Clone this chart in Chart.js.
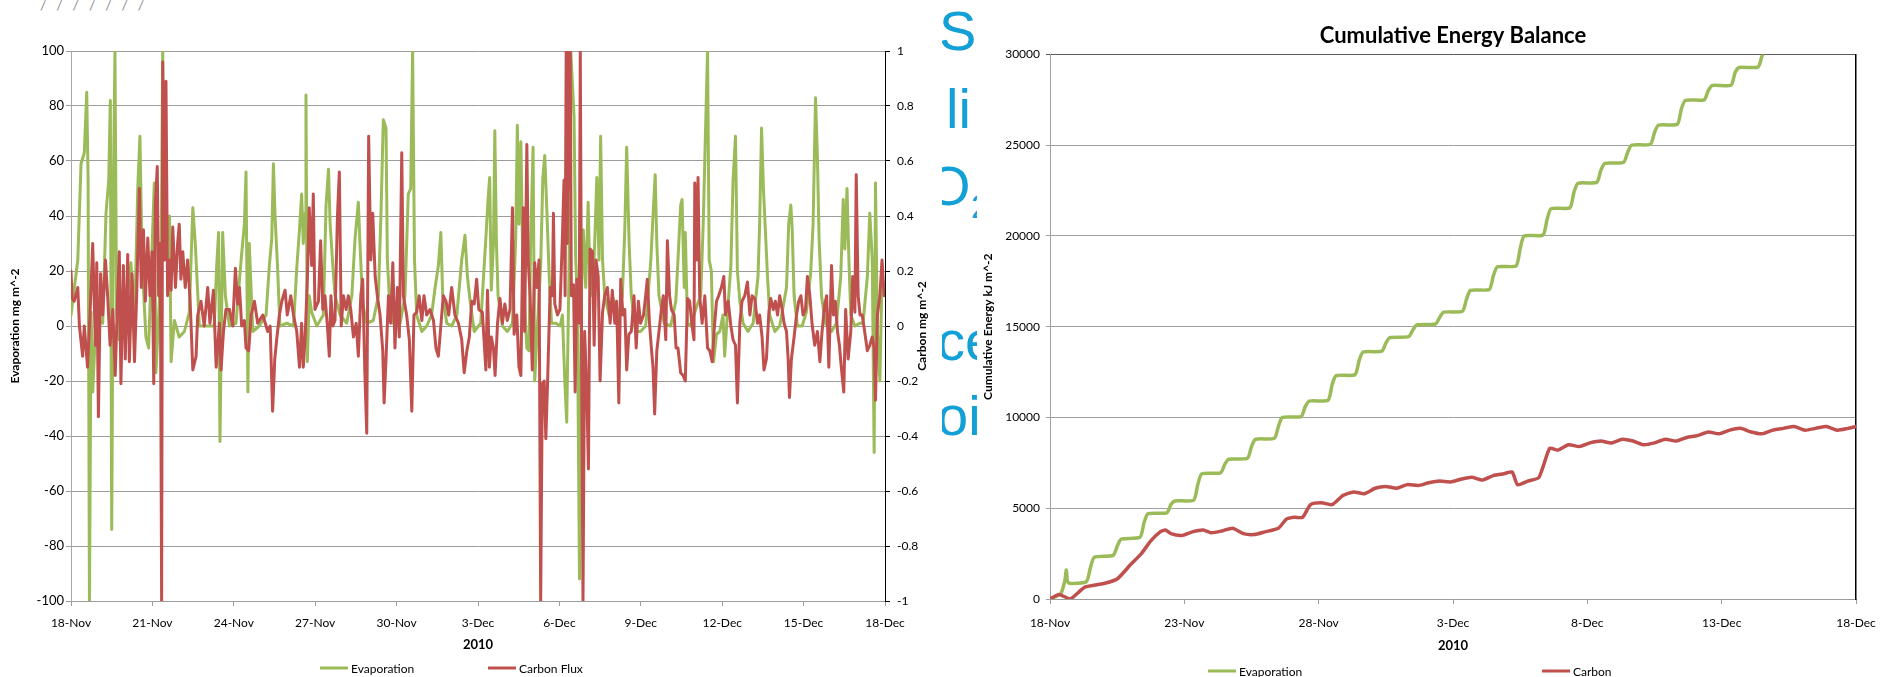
<!DOCTYPE html>
<html>
<head>
<meta charset="utf-8">
<title>Evaporation and carbon flux, Nov-Dec 2010</title>
<script src="https://cdn.jsdelivr.net/npm/chart.js@4.4.1/dist/chart.umd.min.js"></script>
<style>
  html, body { margin: 0; padding: 0; background: #fff; }
  body { width: 1889px; height: 677px; position: relative; overflow: hidden; font-family: Lato, sans-serif; }
  #fluxBox { position: absolute; left: 0; top: 0; width: 940px; height: 677px; }
  #cumBox { position: absolute; left: 976px; top: 0; width: 913px; height: 677px; }
  .legend-item { position: absolute; transform: translateY(-50%); display: flex; align-items: center;
                 font: 12px Lato, sans-serif; color: #000; white-space: nowrap; }
  .legend-item .swatch { display: inline-block; width: 28px; height: 3px; margin-right: 3px; }
  #slideText { position: absolute; left: 942px; top: 0; width: 35px; height: 460px; overflow: hidden; }
  #slideText span { position: absolute; font-family: "Liberation Sans", Arial, sans-serif; color: #12a0d7; white-space: nowrap; }
  #marks { position: absolute; left: 40px; top: -4px; font: 14px Lato, sans-serif; color: #8c8c8c; letter-spacing: 3.2px; }
</style>
</head>
<body>
<div id="marks">/ / / / / / /</div>
<div id="fluxBox"><canvas id="fluxChart" width="940" height="677"></canvas></div>
<div id="slideText">
  <span style="left:-3px; top:3px; font-size:56px; line-height:56px;">S</span>
  <span style="left:4px; top:81px; font-size:56px; line-height:56px;">li</span>
  <span style="left:-15px; top:158px; font-size:56px; line-height:56px;">O</span>
  <span style="left:29px; top:189px; font-size:34px; line-height:34px;">2</span>
  <span style="left:-5px; top:313px; font-size:56px; line-height:56px;">ce</span>
  <span style="left:-5px; top:388px; font-size:56px; line-height:56px;">oi</span>
</div>
<div id="cumBox"><canvas id="cumChart" width="913" height="677"></canvas></div>

<script>
// half-hourly flux (days since 18-Nov-2010)
const evapDays = [
  0.00,0.25,0.37,0.49,0.58,0.63,0.68,0.74,0.80,0.92,
  1.17,1.29,1.39,1.45,1.50,1.57,1.62,1.68,1.78,1.97,
  2.21,2.34,2.46,2.54,2.62,2.76,2.86,3.07,3.13,3.32,
  3.38,3.44,3.63,3.69,3.81,3.99,4.18,4.36,4.49,4.58,
  4.73,4.98,5.28,5.37,5.44,5.49,5.59,5.69,5.84,6.08,
  6.27,6.39,6.45,6.52,6.57,6.70,6.94,7.19,7.31,7.40,
  7.46,7.52,7.61,7.70,7.95,8.20,8.32,8.42,8.50,8.56,
  8.63,8.66,8.71,8.78,8.87,9.06,9.30,9.40,9.49,9.55,
  9.65,9.73,9.92,10.16,10.35,10.47,10.59,10.65,10.75,10.90,
  11.14,11.33,11.43,11.51,11.61,11.66,11.73,11.88,12.13,12.31,
  12.43,12.52,12.59,12.66,12.74,12.93,13.11,13.29,13.42,13.54,
  13.63,13.70,13.85,14.03,14.22,14.40,14.52,14.61,14.71,14.86,
  15.10,15.29,15.37,15.43,15.49,15.57,15.62,15.68,15.74,15.90,
  16.08,16.27,16.39,16.45,16.51,16.58,16.64,16.70,16.80,16.88,
  16.94,17.03,17.09,17.19,17.31,17.39,17.46,17.53,17.62,17.71,
  17.87,18.03,18.11,18.20,18.27,18.36,18.42,18.54,18.60,18.66,
  18.74,18.81,18.88,18.97,19.06,19.13,19.22,19.30,19.38,19.46,
  19.52,19.59,19.67,19.83,19.99,20.14,20.32,20.41,20.48,20.57,
  20.65,20.81,20.99,21.18,21.37,21.45,21.53,21.59,21.67,21.86,
  22.10,22.29,22.37,22.47,22.52,22.60,22.64,22.72,22.84,22.96,
  23.09,23.21,23.30,23.38,23.46,23.52,23.60,23.68,23.79,23.91,
  24.03,24.09,24.19,24.32,24.40,24.49,24.56,24.65,24.77,24.95,
  25.14,25.32,25.38,25.45,25.52,25.59,25.67,25.75,25.94,26.12,
  26.28,26.37,26.45,26.53,26.58,26.65,26.77,26.95,27.10,27.26,
  27.35,27.44,27.51,27.57,27.66,27.80,28.03,28.21,28.37,28.46,
  28.52,28.60,28.67,28.74,28.89,29.07,29.19,29.35,29.44,29.53,
  29.60,29.65,29.72,29.81,29.89,30.00
];
const evapVals = [
  4,24,59,63,85,53,-100,5,-24,2,
  1,41,53,82,-74,57,100,5,-5,1,
  23,0,50,69,24,-4,-8,52,-17,22,
  100,24,40,-13,2,-4,-2,5,43,30,
  0,0,0,22,34,-42,34,11,0,1,
  24,37,56,-24,30,-2,0,4,22,32,
  59,40,22,0,1,0,21,35,48,30,
  41,84,-13,11,5,0,4,44,57,37,
  22,11,4,1,11,32,45,30,8,1,
  2,11,43,75,72,24,11,1,1,11,
  48,50,100,24,4,-2,0,4,14,22,
  34,11,1,0,4,24,33,18,9,-2,
  1,32,46,54,13,30,71,30,11,0,
  -2,1,32,73,37,67,30,11,-8,-9,
  30,65,-20,0,22,54,62,44,19,1,
  1,0,4,-20,-35,24,100,76,24,11,
  -92,11,35,14,45,14,11,30,54,24,
  69,24,11,4,10,2,11,35,65,30,
  11,-2,-2,0,24,40,55,30,11,1,
  0,9,24,44,46,14,34,1,0,4,
  8,11,37,69,100,24,20,-13,-3,-2,
  4,-11,4,22,53,69,20,9,1,-2,
  1,18,37,72,50,35,18,4,-2,0,
  9,14,37,44,35,11,0,0,5,19,
  37,83,61,32,11,1,-2,1,18,46,
  28,50,24,4,0,1,1,18,41,24,
  -46,52,-2,-20,18,11
];
const carbonDays = [
  0.00,0.04,0.12,0.25,0.31,0.43,0.49,0.61,0.70,0.80,
  0.90,0.95,1.01,1.09,1.17,1.27,1.35,1.44,1.54,1.63,
  1.72,1.78,1.84,1.93,2.00,2.09,2.15,2.25,2.34,2.42,
  2.52,2.59,2.67,2.74,2.83,2.91,2.99,3.05,3.11,3.18,
  3.23,3.29,3.34,3.38,3.44,3.50,3.56,3.62,3.69,3.75,
  3.85,3.93,3.99,4.05,4.12,4.21,4.30,4.39,4.49,4.61,
  4.67,4.79,4.91,5.04,5.12,5.25,5.35,5.47,5.53,5.62,
  5.71,5.84,5.96,6.06,6.14,6.21,6.29,6.39,6.45,6.55,
  6.64,6.76,6.88,7.07,7.25,7.34,7.43,7.51,7.58,7.68,
  7.77,7.89,7.97,8.10,8.20,8.32,8.42,8.50,8.56,8.63,
  8.71,8.78,8.87,8.93,8.99,9.12,9.20,9.28,9.36,9.45,
  9.52,9.58,9.65,9.73,9.82,9.89,9.96,10.04,10.14,10.22,
  10.31,10.41,10.51,10.59,10.68,10.75,10.83,10.90,10.97,11.05,
  11.12,11.21,11.29,11.39,11.49,11.54,11.61,11.70,11.78,11.86,
  11.94,12.03,12.10,12.19,12.25,12.37,12.47,12.56,12.64,12.74,
  12.83,12.93,13.01,13.11,13.23,13.36,13.45,13.54,13.63,13.72,
  13.82,13.92,14.03,14.15,14.28,14.40,14.49,14.59,14.68,14.77,
  14.86,14.95,15.03,15.16,15.29,15.35,15.42,15.49,15.57,15.63,
  15.72,15.81,15.90,15.99,16.08,16.18,16.27,16.33,16.43,16.51,
  16.58,16.67,16.72,16.80,16.85,16.92,17.00,17.09,17.17,17.25,
  17.31,17.37,17.44,17.50,17.56,17.66,17.74,17.78,17.83,17.93,
  18.02,18.11,18.17,18.21,18.25,18.29,18.33,18.37,18.40,18.44,
  18.52,18.58,18.64,18.73,18.77,18.82,18.87,18.93,19.01,19.07,
  19.13,19.22,19.28,19.35,19.43,19.50,19.59,19.67,19.77,19.87,
  19.95,20.04,20.11,20.19,20.26,20.34,20.41,20.48,20.56,20.65,
  20.75,20.83,20.91,20.99,21.10,21.18,21.24,21.32,21.39,21.45,
  21.51,21.59,21.67,21.76,21.83,21.92,21.98,22.06,22.13,22.23,
  22.30,22.37,22.47,22.56,22.64,22.72,22.80,22.89,22.96,22.99,
  23.06,23.11,23.17,23.26,23.36,23.46,23.54,23.63,23.70,23.79,
  23.87,23.97,24.06,24.12,24.22,24.32,24.40,24.49,24.56,24.65,
  24.73,24.83,24.93,25.02,25.10,25.20,25.30,25.38,25.47,25.54,
  25.63,25.72,25.79,25.88,25.96,26.04,26.12,26.21,26.28,26.37,
  26.43,26.48,26.55,26.65,26.74,26.82,26.90,26.98,27.07,27.14,
  27.23,27.31,27.41,27.51,27.60,27.68,27.78,27.85,27.93,28.03,
  28.10,28.17,28.25,28.32,28.39,28.48,28.55,28.64,28.74,28.81,
  28.89,28.94,29.01,29.08,29.16,29.25,29.35,29.44,29.53,29.60,
  29.65,29.72,29.81,29.89,29.97,30.00
];
const carbonVals = [
  0.20,0.10,0.09,0.14,0.00,-0.11,0.00,-0.15,0.04,0.30,
  -0.07,0.23,-0.33,0.19,0.04,0.24,0.11,-0.07,0.06,-0.18,
  0.11,0.27,-0.21,0.22,-0.12,0.26,-0.13,0.19,-0.13,0.11,
  0.50,0.14,0.35,0.09,0.32,0.11,0.27,-0.21,0.45,0.58,
  0.11,0.30,-1,0.96,0.24,0.89,0.11,0.24,0.13,0.36,
  0.14,0.30,0.37,0.17,0.27,0.14,0.24,0.09,-0.16,-0.11,
  0.04,0.09,0.00,0.14,0.01,0.13,-0.15,0.01,-0.16,-0.02,
  0.06,0.06,0.00,0.21,0.08,0.14,0.00,0.02,-0.08,-0.09,
  0.04,0.09,0.01,0.04,-0.02,0.00,-0.31,-0.12,-0.05,0.04,
  0.09,0.13,0.04,0.11,0.04,-0.02,-0.15,0.01,-0.15,-0.04,
  0.17,0.43,0.22,0.48,0.06,0.09,0.31,0.06,0.11,0.00,
  -0.11,0.11,0.00,0.02,0.40,0.56,0.00,0.11,0.06,0.11,
  0.06,-0.04,0.01,-0.11,0.11,0.17,-0.17,-0.39,0.69,0.24,
  0.41,0.18,0.11,0.04,-0.09,-0.28,-0.12,0.11,0.01,0.23,
  -0.08,0.14,-0.04,0.63,0.11,0.04,-0.05,-0.31,0.04,0.05,
  0.11,0.02,0.11,0.04,0.06,0.02,-0.08,-0.11,0.00,0.11,
  0.09,0.04,0.14,0.04,0.01,-0.05,-0.17,-0.09,-0.04,0.09,
  0.08,0.17,0.06,0.05,-0.16,0.13,-0.15,-0.04,-0.08,-0.18,
  0.01,0.10,0.01,0.08,0.02,0.06,0.43,-0.03,0.04,-0.15,
  -0.18,0.43,-0.02,0.66,0.24,0.11,-0.16,0.23,0.14,0.24,
  -1,-0.21,-0.20,-0.41,-0.22,0.14,0.11,0.41,0.08,0.04,
  0.06,0.32,0.53,0.11,1,0.30,1,0.50,1,0.11,
  0.15,-0.24,0.17,0.01,1,-0.12,-1,-0.02,-0.24,-0.52,
  0.28,0.27,-0.07,0.24,0.18,-0.20,0.05,0.11,0.14,0.01,
  0.13,0.01,0.09,-0.28,0.17,0.04,0.06,-0.16,-0.03,-0.02,
  0.11,-0.08,0.09,0.01,0.04,0.11,0.17,0.01,-0.08,-0.15,
  -0.32,-0.09,-0.02,0.06,0.11,-0.05,0.31,0.11,0.06,0.04,
  -0.08,-0.08,-0.17,-0.18,-0.20,0.10,0.09,0.00,-0.05,0.52,
  0.24,0.54,0.11,0.01,0.11,-0.08,-0.09,-0.13,-0.02,0.09,
  0.11,0.14,0.18,0.04,0.09,0.00,-0.05,-0.07,-0.28,0.01,
  0.09,0.11,0.16,0.04,0.11,0.10,0.01,0.04,-0.04,-0.16,
  -0.12,0.05,0.10,0.06,0.09,0.04,0.11,0.06,0.01,-0.02,
  -0.12,-0.26,-0.12,-0.04,0.04,0.09,0.11,0.04,0.06,0.18,
  0.11,0.01,-0.07,-0.02,-0.13,-0.02,0.08,0.11,-0.15,0.22,
  0.04,0.09,-0.02,-0.07,-0.15,-0.24,0.06,-0.12,-0.02,0.18,
  0.05,0.55,0.11,0.04,0.04,-0.02,-0.09,-0.07,-0.04,-0.08,
  -0.27,0.04,0.11,0.24,0.11,0.14
];

// cumulative energy balance (right panel)
const cumEvapDays = [
  0,0.40,0.55,0.61,0.68,1.35,1.50,1.65,2.35,2.50,2.65,3.35,3.50,3.65,4.35,4.50,4.65,
  5.35,5.50,5.65,6.35,6.50,6.65,7.35,7.50,7.65,8.35,8.50,8.65,9.35,9.50,9.65,
  10.35,10.50,10.65,11.35,11.50,11.65,12.35,12.50,12.65,13.35,13.50,13.65,14.35,14.50,14.65,
  15.35,15.50,15.65,16.35,16.50,16.65,17.35,17.50,17.65,18.35,18.50,18.65,19.35,19.50,19.65,
  20.35,20.50,20.65,21.35,21.50,21.65,22.35,22.50,22.65,23.35,23.50,23.65,24.35,24.50,24.65,
  25.35,25.50,25.65,26.35,26.50,26.65
];
const cumEvapVals = [
  0,300,1000,1600,900,950,1700,2300,2400,2900,3300,3400,4200,4700,4750,5200,5400,
  5450,6300,6900,6950,7400,7700,7750,8400,8800,8850,9500,10000,10050,10600,10900,
  10950,11800,12300,12350,13100,13600,13650,14100,14400,14450,14800,15100,15150,15500,15800,
  15850,16500,17000,17050,17800,18300,18350,19300,20000,20050,20900,21500,21550,22400,22900,
  22950,23600,24000,24050,24600,25000,25050,25700,26100,26150,27000,27470,27500,28000,28290,
  28300,29000,29280,29300,29900,30400
];
const cumCarbonDays = [
  0,0.33,0.75,1.3,2.0,2.5,3.0,3.4,3.75,4.1,4.3,4.5,4.9,5.3,5.7,6.0,6.4,6.8,7.2,7.6,
  8.0,8.5,8.8,9.1,9.4,9.7,10.1,10.5,10.9,11.3,11.7,12.1,12.5,12.9,13.3,13.7,14.1,14.5,14.9,15.3,
  15.7,16.1,16.5,16.9,17.2,17.4,17.8,18.2,18.6,18.9,19.3,19.7,20.1,20.5,20.9,21.3,21.7,22.1,22.5,22.9,
  23.3,23.7,24.1,24.5,24.9,25.3,25.7,26.1,26.5,26.9,27.3,27.7,28.1,28.5,28.9,29.3,29.7,30.0
];
const cumCarbonVals = [
  0,250,0,650,850,1100,1900,2500,3200,3700,3800,3600,3500,3700,3800,3650,3750,3900,3600,3550,
  3700,3900,4400,4500,4500,5200,5300,5200,5700,5900,5800,6100,6200,6100,6300,6250,6400,6500,6450,6600,
  6700,6550,6800,6900,7000,6300,6500,6700,8300,8200,8500,8400,8600,8700,8600,8800,8700,8500,8600,8800,
  8700,8900,9000,9200,9100,9300,9400,9200,9100,9300,9400,9500,9300,9400,9500,9300,9400,9500
];

const fluxDateLabels = ['18-Nov','21-Nov','24-Nov','27-Nov','30-Nov','3-Dec','6-Dec','9-Dec','12-Dec','15-Dec','18-Dec'];
const cumDateLabels = ['18-Nov','23-Nov','28-Nov','3-Dec','8-Dec','13-Dec','18-Dec'];

const GREEN = '#9bbb59';
const RED = '#c0504d';

function pairs(xs, ys) {
  return xs.map(function(x, i) { return { x: x, y: ys[i] }; });
}

// right-hand axis title reads bottom-to-top like the left one
const rightAxisTitle = {
  id: 'rightAxisTitle',
  afterDraw: function(chart, args, opts) {
    const s = chart.scales.y1;
    const ctx = chart.ctx;
    ctx.save();
    ctx.translate(s.right - 18, (s.top + s.bottom) / 2);
    ctx.rotate(-Math.PI / 2);
    ctx.font = 'bold 12px Lato';
    ctx.fillStyle = '#000';
    ctx.textAlign = 'center';
    ctx.textBaseline = 'middle';
    ctx.fillText(opts.text, 0, 0);
    ctx.restore();
  }
};

function addLegend(chart, lefts, top) {
  chart.data.datasets.forEach(function(ds, i) {
    const item = document.createElement('div');
    item.className = 'legend-item';
    item.style.left = lefts[i] + 'px';
    item.style.top = top + 'px';
    item.innerHTML = '<span class="swatch" style="background:' + ds.borderColor + '"></span>' + ds.label;
    document.body.appendChild(item);
  });
}

function draw() {
  Chart.defaults.font.family = 'Lato';
  Chart.defaults.font.size = 12;
  Chart.defaults.color = '#000';

  const fluxChart = new Chart(document.getElementById('fluxChart'), {
    type: 'line',
    data: {
      datasets: [
        { label: 'Evaporation', data: pairs(evapDays, evapVals), yAxisID: 'y', order: 1,
          borderColor: GREEN, backgroundColor: GREEN, borderWidth: 3 },
        { label: 'Carbon Flux', data: pairs(carbonDays, carbonVals), yAxisID: 'y1', order: 0,
          borderColor: RED, backgroundColor: RED, borderWidth: 3 }
      ]
    },
    options: {
      responsive: false,
      animation: false,
      layout: { padding: { top: 51, bottom: 24, left: 0, right: 0 } },
      elements: { point: { radius: 0 }, line: { tension: 0, borderJoinStyle: 'round', borderCapStyle: 'round' } },
      plugins: { legend: { display: false }, tooltip: { enabled: false },
                 rightAxisTitle: { text: 'Carbon mg m^-2' } },
      scales: {
        x: {
          type: 'linear', min: 0, max: 30,
          ticks: { stepSize: 3, autoSkip: false, maxRotation: 0, padding: 10,
                   callback: function(v) { return fluxDateLabels[Math.round(v / 3)]; } },
          grid: { drawOnChartArea: false, color: '#9c9c9c', tickLength: 5 },
          border: { color: '#9c9c9c' },
          title: { display: true, text: '2010', font: { size: 13, weight: 'bold' }, padding: 0 },
          afterFit: function(s) { s.height = 52; }
        },
        y: {
          position: 'left', min: -100, max: 100,
          ticks: { stepSize: 20, padding: 2, font: { size: 13 }, callback: function(v) { return String(v); } },
          grid: { color: '#9c9c9c', tickLength: 5 },
          border: { color: '#a8a8a8' },
          title: { display: true, text: 'Evaporation mg m^-2', font: { size: 12, weight: 'bold' }, padding: { top: 8, bottom: 0 } },
          afterFit: function(s) { s.width = 71; }
        },
        y1: {
          position: 'right', min: -1, max: 1,
          ticks: { stepSize: 0.2, padding: 7, callback: function(v) { return String(Number(v.toFixed(1))); } },
          grid: { drawOnChartArea: false, color: '#000', tickLength: 5 },
          border: { color: '#000' },
          afterFit: function(s) { s.width = 55; }
        }
      }
    },
    plugins: [rightAxisTitle]
  });

  const cumChart = new Chart(document.getElementById('cumChart'), {
    type: 'line',
    data: {
      datasets: [
        { label: 'Evaporation', data: pairs(cumEvapDays, cumEvapVals), order: 1,
          borderColor: GREEN, backgroundColor: GREEN, borderWidth: 3.5 },
        { label: 'Carbon', data: pairs(cumCarbonDays, cumCarbonVals), order: 0,
          borderColor: RED, backgroundColor: RED, borderWidth: 3.5 }
      ]
    },
    options: {
      responsive: false,
      animation: false,
      layout: { padding: { top: 0, bottom: 23, left: 0, right: 33 } },
      elements: { point: { radius: 0 }, line: { tension: 0.2, borderJoinStyle: 'round', borderCapStyle: 'round' } },
      plugins: {
        legend: { display: false }, tooltip: { enabled: false },
        title: { display: true, fullSize: false, text: 'Cumulative Energy Balance', color: '#000',
                 font: { size: 22, weight: 'bold', lineHeight: 1.2 }, padding: { top: 23, bottom: 5 } }
      },
      scales: {
        x: {
          type: 'linear', min: 0, max: 30,
          ticks: { stepSize: 5, autoSkip: false, maxRotation: 0, padding: 12,
                   callback: function(v) { return cumDateLabels[Math.round(v / 5)]; } },
          grid: { drawOnChartArea: false, color: '#9c9c9c', tickLength: 5 },
          border: { color: '#9c9c9c' },
          title: { display: true, text: '2010', font: { size: 13, weight: 'bold' }, padding: 0 },
          afterFit: function(s) { s.height = 55; }
        },
        y: {
          position: 'left', min: 0, max: 30000,
          ticks: { stepSize: 5000, padding: 6, callback: function(v) { return String(v); } },
          grid: { color: function(c) { return c.tick && c.tick.value === 30000 ? '#5a5a5a' : '#a0a0a0'; }, tickLength: 4 },
          border: { color: '#a0a0a0' },
          title: { display: true, text: 'Cumulative Energy kJ m^-2', font: { size: 12, weight: 'bold' }, padding: { top: 5, bottom: 0 } },
          afterFit: function(s) { s.width = 74; }
        },
        y2: {
          position: 'right', min: 0, max: 1,
          ticks: { display: false },
          grid: { drawOnChartArea: false, drawTicks: false },
          border: { color: '#000', width: 1.5 },
          afterFit: function(s) { s.width = 0; }
        }
      }
    }
  });

  addLegend(fluxChart, [320, 488], 668);
  addLegend(cumChart, [1208, 1542], 671);
}

Promise.all([document.fonts.load('12px Lato'), document.fonts.load('bold 12px Lato')]).then(draw, draw);
</script>
</body>
</html>
